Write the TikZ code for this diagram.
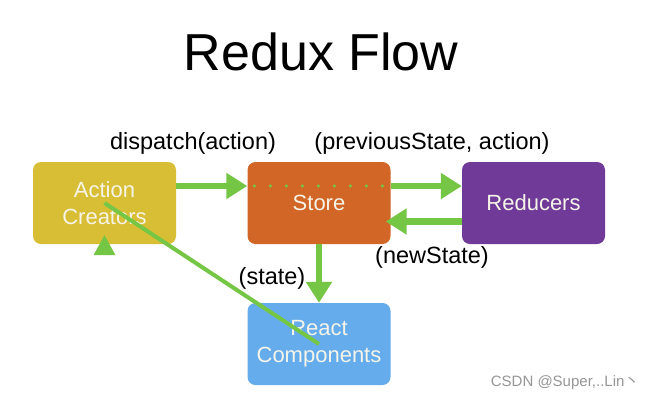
\documentclass[tikz,border=0pt]{standalone}
\usepackage{fontspec}
\setmainfont{Liberation Sans}
\newfontfamily\cjkfont{Noto Sans CJK SC}
\usetikzlibrary{arrows.meta, positioning, calc}
\definecolor{flowgreen}{RGB}{118,198,70}
\definecolor{actyellow}{RGB}{216,190,52}
\definecolor{storeorange}{RGB}{210,102,38}
\definecolor{redpurple}{RGB}{112,58,152}
\definecolor{reactblue}{RGB}{100,172,236}
\definecolor{boxtext}{RGB}{246,244,232}
\definecolor{markgray}{RGB}{150,150,150}
\tikzset{
  box/.style={rectangle, minimum width=143pt, minimum height=82pt,
    rounded corners=8pt, align=center, text=boxtext,
    font=\fontsize{22}{27}\selectfont},
  actionbox/.style={box, fill=actyellow},
  storebox/.style={box, fill=storeorange},
  redbox/.style={box, fill=redpurple},
  reactbox/.style={box, fill=reactblue},
  flow/.style={draw=flowgreen, line width=6.5pt,
    -{Triangle[length=21pt, width=25pt]}},
  lbl/.style={font=\fontsize{23.5}{27}\selectfont, text=black}
}
\begin{document}
\begin{tikzpicture}[x=1pt, y=-1pt]
  \useasboundingbox[fill=white] (0,0) rectangle (651,400);

  % Title
  \node[font=\fontsize{52}{60}\selectfont] (title) at (321,52) {Redux Flow};

  % Blocks
  \node[actionbox] (action) at (104.5,203) {Action\\Creators};
  \node[storebox] (store) at (319,203) {Store};
  \node[redbox] (reducers) at (533.5,203) {Reducers};
  \node[reactbox] (react) at (319,344) {React\\Components};

  % Flow arrows
  \draw[flow] ([yshift=17pt]action.east) -- ([yshift=17pt]store.west);
  \draw[flowgreen, line width=3.5pt, line cap=round, dash pattern=on 0pt off 16pt]
    ([xshift=7pt, yshift=17pt]store.west) -- ([yshift=17pt]store.east);
  \draw[flow] ([yshift=17pt]store.east) -- ([yshift=17pt]reducers.west);
  \draw[flow] ([yshift=-18.5pt]reducers.west) -- ([xshift=-5pt, yshift=-18.5pt]store.east);
  \draw[flow] (store.south) -- (react.north);
  \draw[flowgreen, line width=4pt] (action.center) -- (react.center);
  \fill[flowgreen] ([yshift=9pt]action.south) -- ([xshift=11pt, yshift=-11pt]action.south)
    -- ([xshift=-11pt, yshift=-11pt]action.south) -- cycle;

  % Labels
  \node[lbl] (dispatch) at (193,143) {dispatch(action)};
  \node[lbl] (prev) at (432,143) {(previousState, action)};
  \node[lbl] (newstate) at (432,257) {(newState)};
  \node[lbl] (state) at (272,278) {(state)};

  % Watermark
  \node[anchor=east, font=\fontsize{15}{17}\selectfont, text=markgray] (mark) at (643,383)
    {CSDN @Super,..Lin{\cjkfont 丶}};
\end{tikzpicture}
\end{document}
